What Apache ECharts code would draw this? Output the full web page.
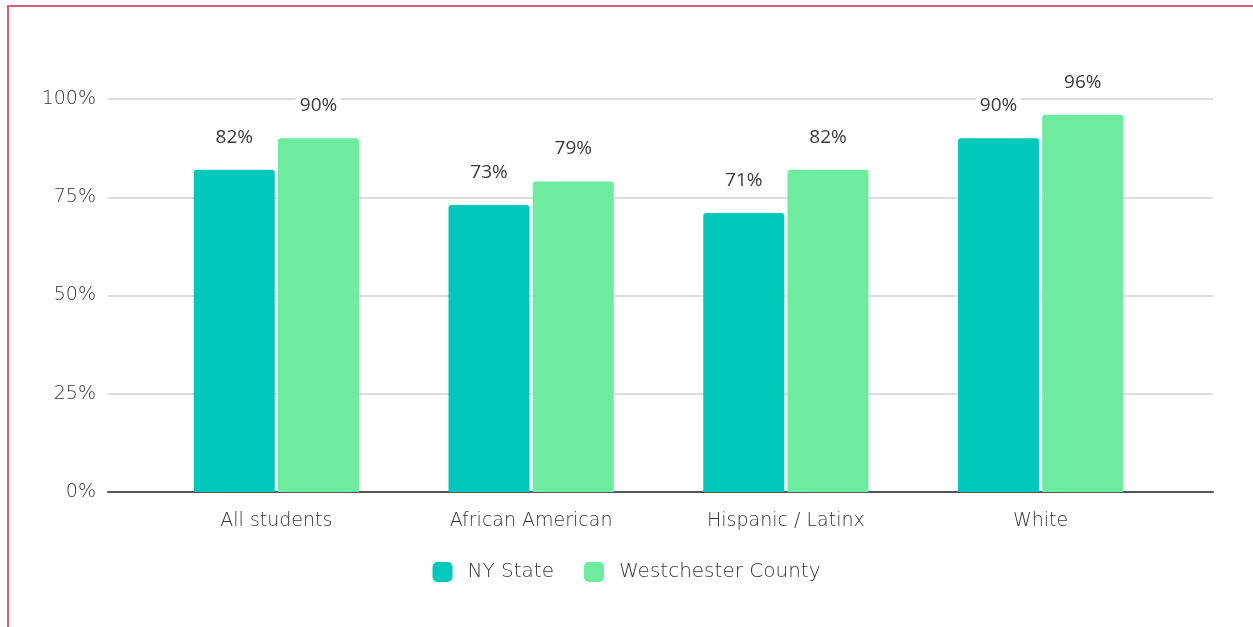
<!DOCTYPE html>
<html>
<head>
<meta charset="utf-8">
<script src="https://cdn.jsdelivr.net/npm/echarts@6/dist/echarts.min.js"></script>
<style>
    html, body { margin: 0; padding: 0; background: #fff; }
    #frame {
        position: absolute; left: 7px; top: 5px; width: 1260px; height: 640px;
        border-left: 2px solid #d9606e; border-top: 2px solid #d9606e;
        pointer-events: none;
    }
    #main { position: absolute; left: 0; top: 0; width: 1253px; height: 627px; }
</style>
</head>
<body>
<div id="main"></div>
<div id="frame"></div>
<script>
    // 数据
    var categories = ['All students', 'African American', 'Hispanic / Latinx', 'White'];
    var nyState = [82, 73, 71, 90];
    var westchester = [90, 79, 82, 96];
    var yTicks = [0, 25, 50, 75, 100];

    var axisFont = '"DejaVu Sans", sans-serif';
    var labelFont = '"Open Sans", "Noto Sans", sans-serif';

    var chart = echarts.init(document.getElementById('main'));

    var barLabel = {
        show: true,
        position: 'top',
        distance: 21,
        formatter: '{c}%',
        color: '#3a3a3a',
        fontSize: 19,
        fontFamily: labelFont,
        backgroundColor: '#fff',
        padding: [2, 4]
    };

    var option = {
        animation: false,
        grid: [
            { left: 108, right: 40, top: 99, bottom: 135 },
            { left: 149, right: 85, top: 99, bottom: 135 }
        ],
        legend: {
            bottom: 40,
            left: 'center',
            icon: 'roundRect',
            itemWidth: 20,
            itemHeight: 20,
            itemGap: 30,
            textStyle: {
                color: '#333',
                fontSize: 20,
                fontWeight: 300,
                fontFamily: axisFont,
                padding: [0, 0, 0, 10]
            },
            data: ['NY State', 'Westchester County']
        },
        xAxis: [
            {
                gridIndex: 0, type: 'value', min: 0, max: 1,
                axisLine: { show: true, onZero: false, lineStyle: { color: '#555', width: 2 } },
                axisTick: { show: false }, axisLabel: { show: false }, splitLine: { show: false }
            },
            {
                gridIndex: 1, type: 'category', data: categories,
                axisLine: { show: false }, axisTick: { show: false },
                axisLabel: { margin: 20, color: '#333', fontSize: 19, fontWeight: 300, fontFamily: axisFont }
            }
        ],
        yAxis: [
            {
                gridIndex: 0, type: 'value', min: yTicks[0], max: yTicks[yTicks.length - 1], interval: 25,
                axisLine: { show: false }, axisTick: { show: false },
                axisLabel: { margin: 12, color: '#333', fontSize: 19, fontWeight: 300, fontFamily: axisFont, formatter: '{value}%' },
                splitLine: { lineStyle: { color: '#dcdcdc', width: 2 } }
            },
            {
                gridIndex: 1, type: 'value', min: yTicks[0], max: yTicks[yTicks.length - 1], interval: 25,
                show: false, splitLine: { show: false }
            }
        ],
        series: [
            {
                name: 'NY State', type: 'bar', xAxisIndex: 1, yAxisIndex: 1,
                data: nyState, barWidth: 81, barGap: '4%',
                itemStyle: { color: '#00c8bb', borderRadius: [3, 3, 0, 0] },
                label: barLabel
            },
            {
                name: 'Westchester County', type: 'bar', xAxisIndex: 1, yAxisIndex: 1,
                data: westchester, barWidth: 81,
                itemStyle: { color: '#6deb9f', borderRadius: [3, 3, 0, 0] },
                label: barLabel
            }
        ]
    };

    chart.setOption(option);
</script>
</body>
</html>
